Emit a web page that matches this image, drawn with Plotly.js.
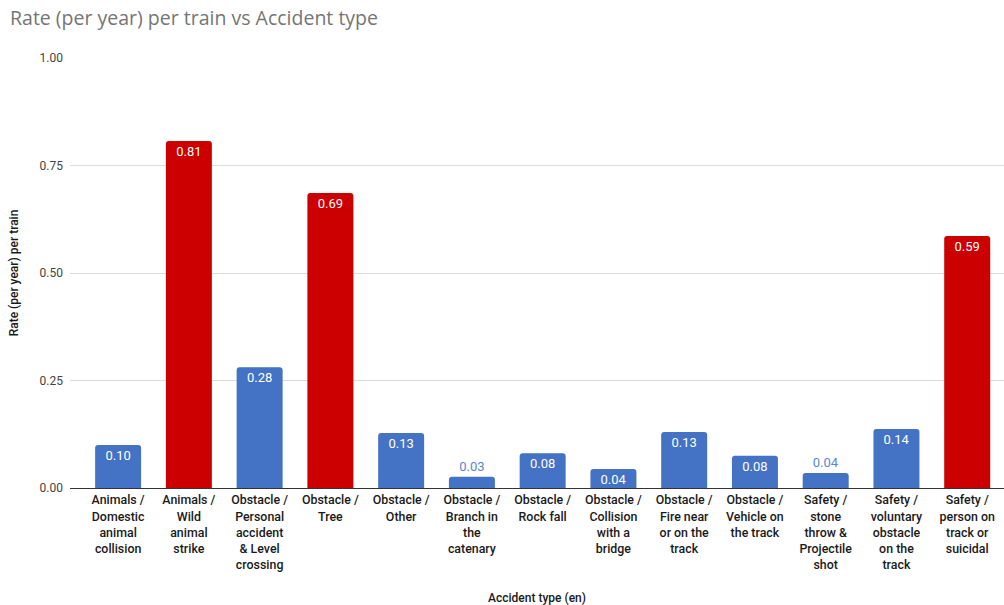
<!DOCTYPE html>
<html>
<head>
<meta charset="utf-8">
<script src="https://cdn.plot.ly/plotly-3.0.1.min.js"></script>
<style>html,body{margin:0;padding:0;background:#fff;}#chart{width:1004px;height:605px;}</style>
</head>
<body>
<div id="chart"></div>
<script>
const categories = [
  "Animals /<br>Domestic<br>animal<br>collision",
  "Animals /<br>Wild<br>animal<br>strike",
  "Obstacle /<br>Personal<br>accident<br>& Level<br>crossing",
  "Obstacle /<br>Tree",
  "Obstacle /<br>Other",
  "Obstacle /<br>Branch in<br>the<br>catenary",
  "Obstacle /<br>Rock fall",
  "Obstacle /<br>Collision<br>with a<br>bridge",
  "Obstacle /<br>Fire near<br>or on the<br>track",
  "Obstacle /<br>Vehicle on<br>the track",
  "Safety /<br>stone<br>throw &<br>Projectile<br>shot",
  "Safety /<br>voluntary<br>obstacle<br>on the<br>track",
  "Safety /<br>person on<br>track or<br>suicidal"
];
const rates = [0.10, 0.807, 0.281, 0.686, 0.128, 0.026, 0.081, 0.044, 0.130, 0.075, 0.035, 0.137, 0.586];
const labels = ["0.10","0.81","0.28","0.69","0.13","0.03","0.08","0.04","0.13","0.08","0.04","0.14","0.59"];
const highlighted = [false,true,false,true,false,false,false,false,false,false,false,false,true];
const tickVals = [0, 0.25, 0.5, 0.75, 1.0];
const tickText = ["0.00","0.25","0.50","0.75","1.00"];

const BLUE = "#4472C4", RED = "#CC0000";
const outsideSet = [5, 10];
const idx = categories.map((_, i) => i);

const trace = {
  type: "bar",
  x: idx,
  y: rates,
  text: labels,
  textposition: idx.map(i => outsideSet.includes(i) ? "outside" : "inside"),
  insidetextanchor: "end",
  constraintext: "none",
  textangle: 0,
  cliponaxis: false,
  textfont: {family: "Roboto, Arial, sans-serif", size: 13, color: idx.map(i => outsideSet.includes(i) ? "#5B86D6" : "#ffffff")},
  marker: {color: highlighted.map(h => h ? RED : BLUE), cornerradius: 3, line: {width: 0}},
  hoverinfo: "skip"
};

const layout = {
  width: 1004, height: 605,
  margin: {l: 70, r: 0, t: 58, b: 117},
  paper_bgcolor: "#fff", plot_bgcolor: "#fff",
  showlegend: false,
  bargap: 0.35,
  title: {text: "Rate (per year) per train vs Accident type", x: 0.01, xanchor: "left", y: 0.97, yanchor: "middle",
          font: {family: "Open Sans, Arial, sans-serif", size: 19.5, color: "#757575"}},
  xaxis: {
    range: [-0.68, 12.52],
    tickmode: "array", tickvals: idx, ticktext: categories,
    tickfont: {family: "Roboto, Arial, sans-serif", size: 12.4, color: "#1a1a1a", weight: 500},
    ticklabelstandoff: 3,
    showgrid: false, zeroline: false, showline: false, ticks: "",
    title: {text: "Accident type (en)", font: {family: "Roboto, Arial, sans-serif", size: 12, color: "#1a1a1a", weight: 500}, standoff: 22},
    fixedrange: true
  },
  yaxis: {
    range: [0, 1.0],
    tickmode: "array", tickvals: tickVals, ticktext: tickText,
    tickfont: {family: "Roboto, Arial, sans-serif", size: 12, color: "#444"},
    ticklabelstandoff: 6,
    showgrid: true, gridcolor: "#dcdcdc", gridwidth: 1,
    zeroline: true, zerolinecolor: "#333", zerolinewidth: 1,
    showline: false, ticks: "",
    title: {text: "Rate (per year) per train", font: {family: "Roboto, Arial, sans-serif", size: 12, color: "#1a1a1a", weight: 500}, standoff: 18},
    fixedrange: true
  }
};

Plotly.newPlot("chart", [trace], layout, {displayModeBar: false, staticPlot: true});
</script>
</body>
</html>
